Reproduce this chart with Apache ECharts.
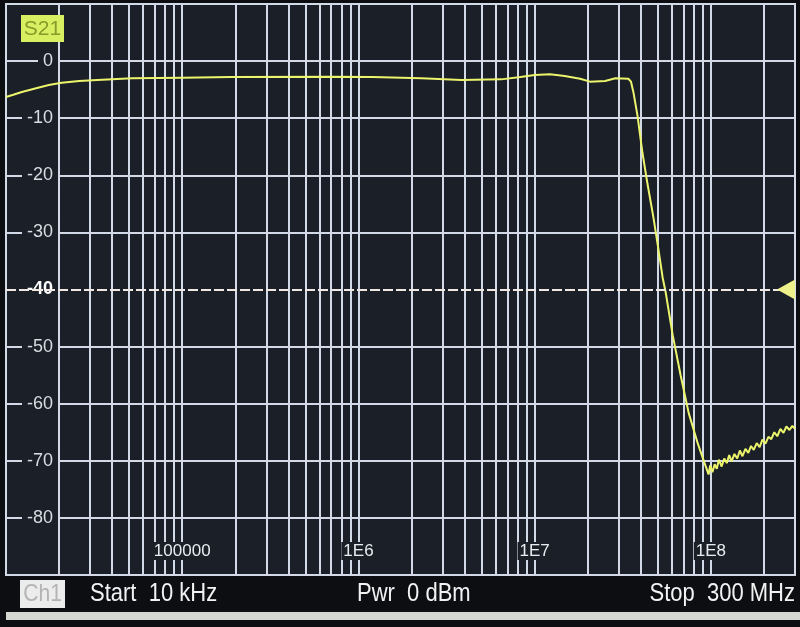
<!DOCTYPE html>
<html><head><meta charset="utf-8">
<script src="https://cdn.jsdelivr.net/npm/echarts@6/dist/echarts.min.js"></script>
<style>html,body{margin:0;padding:0;background:#0c0e12;}#c{width:800px;height:627px;}</style>
</head><body><div id="c"></div>
<script>
// S21 trace (frequency in Hz, magnitude in dB)
const freqHz = [
  1.0e4, 1.1e4, 1.23e4, 1.5e4, 1.75e4, 2.07e4, 2.6e4, 3.3e4, 5.2e4, 1.0e5,
  1.9e5, 7.0e5, 1.2e6, 2.27e6, 3.84e6, 6.46e6, 8.3e6, 1.0e7, 1.22e7, 1.48e7,
  1.81e7, 2.06e7, 2.51e7, 2.87e7, 3.4e7, 3.52e7, 3.63e7, 3.83e7, 4.09e7, 4.36e7,
  4.72e7, 5.05e7, 5.32e7, 5.53e7, 6.07e7, 6.74e7, 7.49e7, 8.43e7,
  9.1e7, 9.4e7, 9.7e7, 9.9e7, 1.02e8, 1.05e8, 1.08e8, 1.11e8, 1.15e8, 1.19e8,
  1.23e8, 1.27e8, 1.31e8, 1.36e8, 1.41e8, 1.46e8, 1.51e8, 1.57e8, 1.63e8, 1.69e8,
  1.75e8, 1.82e8, 1.89e8, 1.96e8, 2.04e8, 2.12e8, 2.20e8, 2.29e8, 2.38e8, 2.48e8,
  2.58e8, 2.68e8, 2.79e8, 2.90e8, 3.0e8
];
const s21dB = [
  -6.3, -5.9, -5.4, -4.7, -4.2, -3.8, -3.5, -3.3, -3.0, -2.9,
  -2.8, -2.75, -2.8, -3.0, -3.3, -3.2, -2.8, -2.45, -2.3, -2.6,
  -3.1, -3.6, -3.5, -3.0, -3.1, -3.6, -5.4, -9.5, -16.1, -21.4,
  -27.4, -33.2, -37.9, -40.4, -48.0, -55.1, -61.7, -67.0,
  -70.0, -71.2, -72.4, -70.8, -72.0, -70.6, -71.4, -69.8, -71.0, -69.6,
  -70.4, -69.0, -70.1, -68.8, -69.6, -68.2, -69.2, -67.9, -68.6, -67.4,
  -68.1, -66.9, -67.6, -66.3, -67.0, -65.8, -66.2, -65.0, -65.7, -64.4,
  -65.1, -64.0, -64.6, -63.9, -64.4
];
// grid lines at 2..9 x each decade
const minorGridFreqs = [
  2e4, 3e4, 4e4, 5e4, 6e4, 7e4, 8e4, 9e4,
  2e5, 3e5, 4e5, 5e5, 6e5, 7e5, 8e5, 9e5,
  2e6, 3e6, 4e6, 5e6, 6e6, 7e6, 8e6, 9e6,
  2e7, 3e7, 4e7, 5e7, 6e7, 7e7, 8e7, 9e7,
  2e8
];
const decadeTicks = [1e5, 1e6, 1e7, 1e8];
const decadeLabels = ['100000', '1E6', '1E7', '1E8'];
const yTicks = [0, -10, -20, -30, -40, -50, -60, -70, -80];
const refLevel = -40;
const traceName = 'S21';
const statusTexts = ['Start  10 kHz', 'Pwr  0 dBm', 'Stop  300 MHz'];

const FONT = '"Liberation Sans", Arial, sans-serif';
const GRID = '#d2dae8';
const BG = '#1b1f27';

const chart = echarts.init(document.getElementById('c'));
const splitColors = [];
for (let v = -90; v <= 10; v += 10) splitColors.push(v === refLevel ? 'transparent' : GRID);

chart.setOption({
  backgroundColor: '#0c0e12',
  animation: false,
  grid: { left: 6, right: 5, top: 4, bottom: 52, show: true, borderColor: GRID, borderWidth: 2, backgroundColor: BG },
  xAxis: {
    type: 'log', logBase: 10, min: 1e4, max: 3e8, z: 2,
    axisLine: { show: false }, axisTick: { show: false },
    splitLine: { show: true, lineStyle: { color: GRID, width: 2 } },
    axisLabel: {
      inside: true, margin: 15, showMinLabel: false, showMaxLabel: false,
      formatter: function (v) {
        for (let i = 0; i < decadeTicks.length; i++) {
          if (Math.abs(Math.log10(v) - Math.log10(decadeTicks[i])) < 1e-6) return '{b|' + decadeLabels[i] + '}';
        }
        return '';
      },
      rich: { b: { color: '#e8ecf2', fontSize: 17, fontFamily: FONT, backgroundColor: BG, padding: [1, 2, 0, 2] } }
    }
  },
  yAxis: {
    type: 'value', min: -90, max: 10, interval: 10, z: 2,
    axisLine: { show: false }, axisTick: { show: false },
    splitLine: { show: true, lineStyle: { color: splitColors, width: 2 } },
    axisLabel: {
      inside: true, margin: 52, align: 'right',
      formatter: function (v) {
        if (yTicks.indexOf(v) < 0) return '';
        return v === refLevel ? '{h|' + v + '}' : '{b|' + v + '}';
      },
      rich: {
        b: { color: '#d8dde4', fontSize: 18, fontFamily: FONT, backgroundColor: BG, padding: [0, 5, 0, 5] },
        h: { color: '#ffffff', fontSize: 18, fontWeight: 'bold', fontFamily: FONT, backgroundColor: BG, padding: [0, 5, 0, 5] }
      }
    }
  },
  series: [
    {
      type: 'line', data: [], z: 1, silent: true,
      markLine: {
        z: 1, silent: true, symbol: 'none', animation: false,
        label: { show: false },
        lineStyle: { color: GRID, width: 2, type: 'solid' },
        data: minorGridFreqs.map(f => ({ xAxis: f }))
      }
    },
    {
      name: traceName, type: 'line', z: 3, showSymbol: false, smooth: false,
      data: freqHz.map((f, i) => [f, s21dB[i]]),
      lineStyle: { color: '#ecf46c', width: 2 },
      markLine: {
        z: 4, silent: true, symbol: 'none', animation: false,
        label: { show: false },
        lineStyle: { color: '#f0e6e2', width: 2, type: [10, 3] },
        data: [{ yAxis: refLevel }]
      },
      markPoint: {
        z: 5, silent: true, animation: false,
        data: [{ coord: [3e8, refLevel], symbol: 'triangle', symbolSize: [20, 18], symbolRotate: 90, symbolOffset: [-9, 0],
                 itemStyle: { color: '#eef08a' }, label: { show: false } }]
      }
    }
  ],
  graphic: [
    { type: 'rect', shape: { x: 21, y: 15, width: 43, height: 27 }, style: { fill: '#d8ef62' }, z: 10 },
    { type: 'text', x: 42.5, y: 29, style: { text: traceName, fill: '#879a2a', font: '21px ' + FONT, align: 'center', verticalAlign: 'middle' }, z: 11 },
    { type: 'rect', shape: { x: 6, y: 612, width: 794, height: 8 }, style: { fill: '#d4d7d2' }, z: 10 },
    { type: 'rect', shape: { x: 20, y: 580, width: 45, height: 28 }, style: { fill: '#ececec' }, z: 10 },
    { type: 'text', x: 42.5, y: 594, scaleX: 0.88, style: { text: 'Ch1', fill: '#b4b4b4', font: '24px ' + FONT, align: 'center', verticalAlign: 'middle' }, z: 11 },
    { type: 'text', x: 90, y: 594, scaleX: 0.88, style: { text: statusTexts[0], fill: '#f2f2f2', font: '25px ' + FONT, align: 'left', verticalAlign: 'middle' }, z: 11 },
    { type: 'text', x: 357, y: 594, scaleX: 0.88, style: { text: statusTexts[1], fill: '#f2f2f2', font: '25px ' + FONT, align: 'left', verticalAlign: 'middle' }, z: 11 },
    { type: 'text', x: 795, y: 594, scaleX: 0.88, style: { text: statusTexts[2], fill: '#f2f2f2', font: '25px ' + FONT, align: 'right', verticalAlign: 'middle' }, z: 11 }
  ]
});
</script></body></html>
